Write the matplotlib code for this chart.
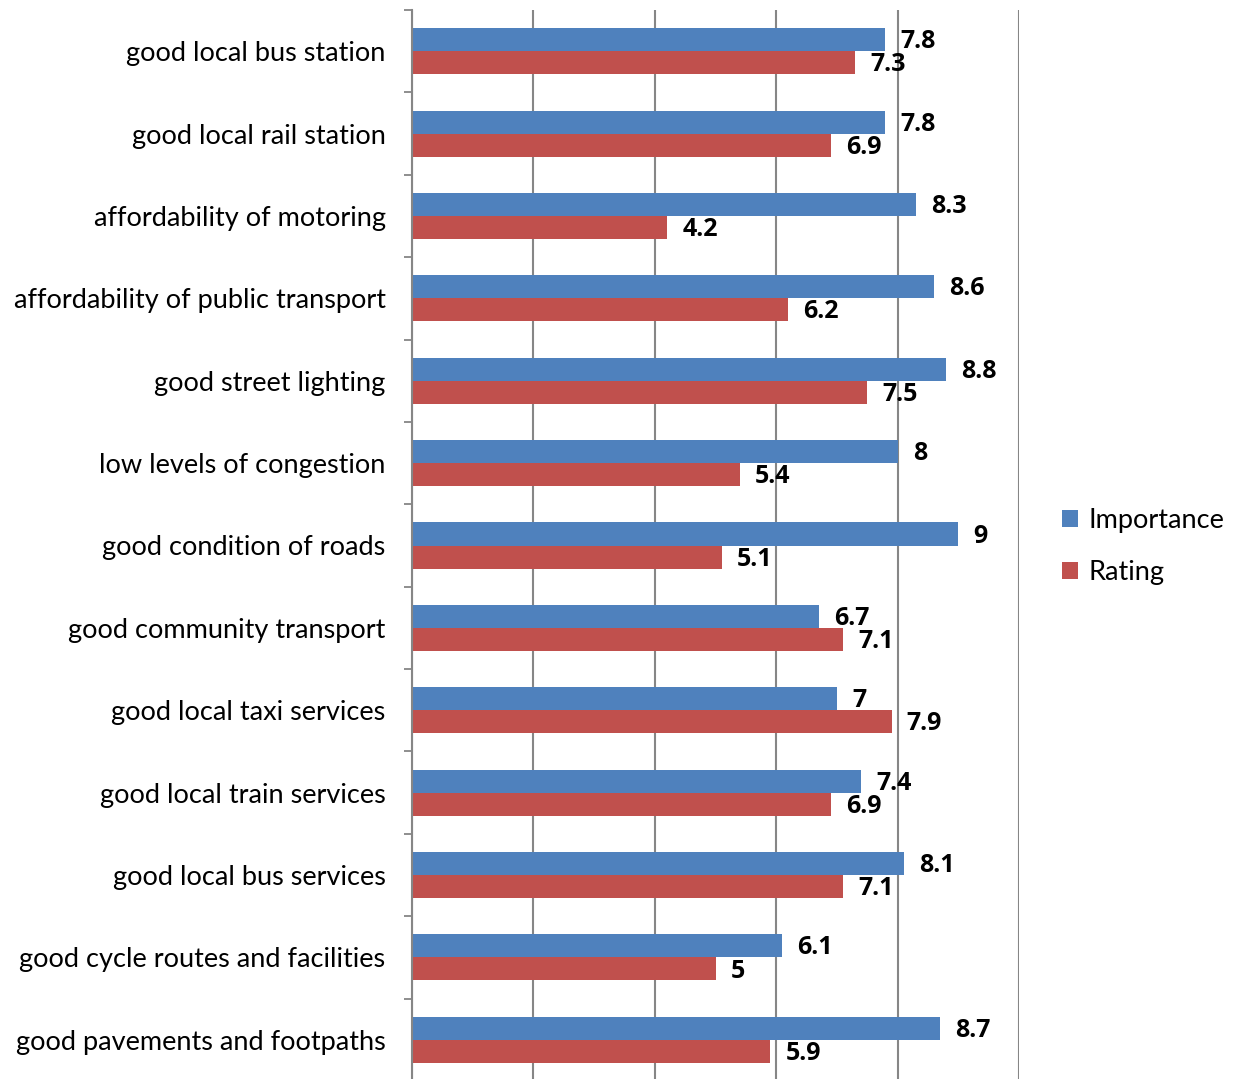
import matplotlib
matplotlib.use("Agg")
import matplotlib.pyplot as plt
import numpy as np

plt.rcParams["font.family"] = ["Lato", "DejaVu Sans"]

categories = [
    "good local bus station",
    "good local rail station",
    "affordability of motoring",
    "affordability of public transport",
    "good street lighting",
    "low levels of congestion",
    "good condition of roads",
    "good community transport",
    "good local taxi services",
    "good local train services",
    "good local bus services",
    "good cycle routes and facilities",
    "good pavements and footpaths",
]
importance = [7.8, 7.8, 8.3, 8.6, 8.8, 8, 9, 6.7, 7, 7.4, 8.1, 6.1, 8.7]
rating = [7.3, 6.9, 4.2, 6.2, 7.5, 5.4, 5.1, 7.1, 7.9, 6.9, 7.1, 5, 5.9]

BLUE = "#4F81BD"
RED = "#C0504D"
GRID = "#868686"

fig = plt.figure(figsize=(12.33, 10.79), dpi=100)
ax = fig.add_axes([412 / 1233, -2 / 1079, 607 / 1233, 1071 / 1079])

y = np.arange(len(categories))
h = 0.28
ax.barh(y - h / 2, importance, height=h, color=BLUE, label="Importance", zorder=2)
ax.barh(y + h / 2, rating, height=h, color=RED, label="Rating", zorder=2)


def fmt(v):
    return f"{v:g}"


label_kw = dict(textcoords="offset points", va="center", ha="left",
                fontsize=18, fontweight="bold", family=["Open Sans", "DejaVu Sans"], zorder=4)
for yi, v in zip(y, importance):
    ax.annotate(fmt(v), (v, yi - h / 2), xytext=(11, -1.5), **label_kw)
for yi, v in zip(y, rating):
    ax.annotate(fmt(v), (v, yi + h / 2), xytext=(11, -1.5), **label_kw)

ax.set_xlim(0, 10)
ax.set_ylim(len(categories) - 0.5, -0.5)
ax.set_xticks([0, 2, 4, 6, 8, 10])
ax.tick_params(axis="x", length=0, labelbottom=False)
ax.grid(axis="x", color=GRID, linewidth=1.5, zorder=0)
ax.set_axisbelow(True)

ax.set_yticks(y)
ax.set_yticklabels(categories, fontsize=19.5)
ax.tick_params(axis="y", which="major", length=0, pad=19)
ax.set_yticks(np.arange(-0.5, len(categories) + 0.5, 1), minor=True)
ax.tick_params(axis="y", which="minor", length=6, width=1.3, color=GRID, direction="out")

for side in ["top", "right", "bottom"]:
    ax.spines[side].set_visible(False)
ax.spines["left"].set_color(GRID)
ax.spines["left"].set_linewidth(1.5)

ax.legend(loc="center left", bbox_to_anchor=(1.03, 0.499), frameon=False,
          fontsize=19.5, handlelength=0.6, handleheight=0.6, handletextpad=0.4,
          labelspacing=1.0)

fig.savefig("out.png", dpi=100)
